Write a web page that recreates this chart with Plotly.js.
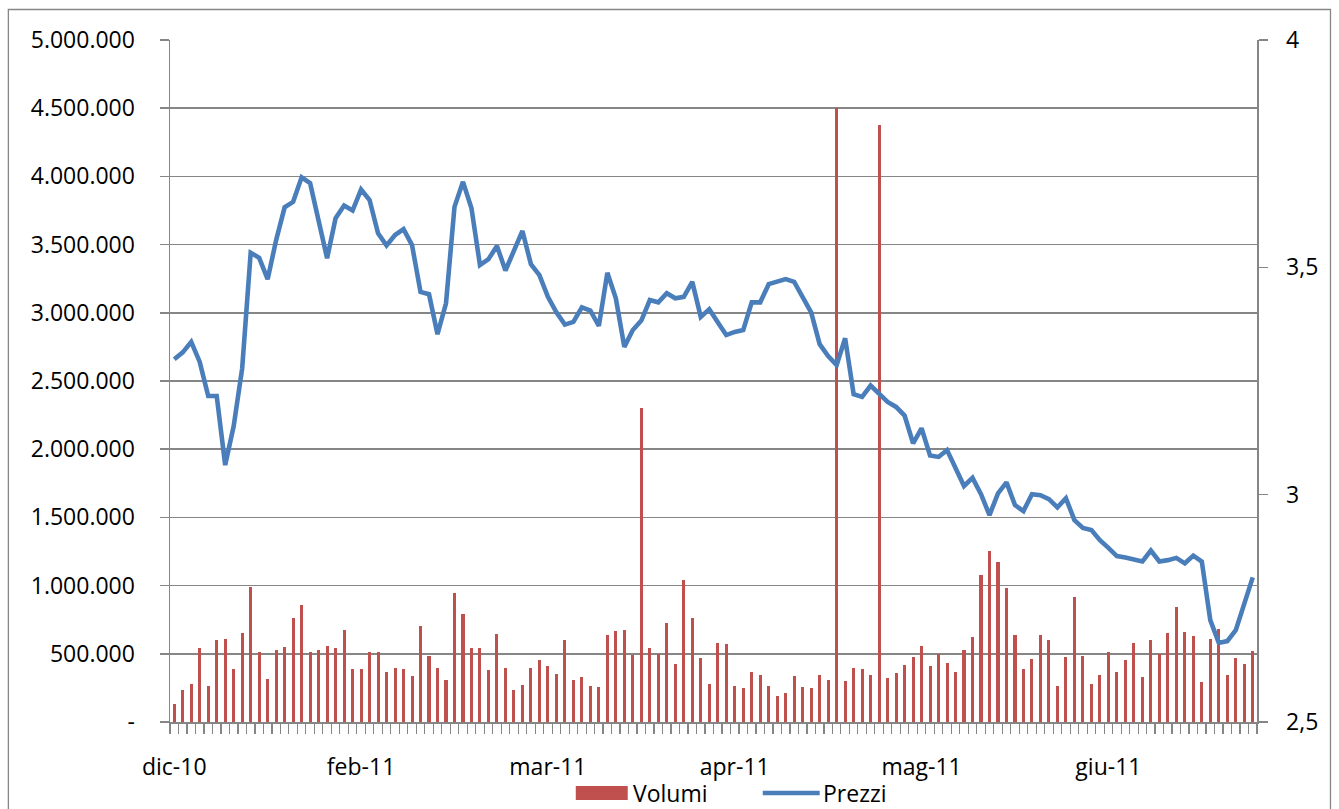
<!DOCTYPE html>
<html>
<head>
<meta charset="utf-8">
<script src="https://cdn.plot.ly/plotly-3.0.1.min.js"></script>
<style>
  html, body { margin: 0; padding: 0; background: #fff; }
  #chart { width: 1339px; height: 809px; }
</style>
</head>
<body>
<div id="chart"></div>
<script>
// Trading-day volumes (Volumi), one value per session
const volumi = [
  135000, 238000, 277000, 539000, 267000, 598000, 608000, 387000, 652000, 988000,
  510000, 316000, 529000, 549000, 760000, 855000, 515000, 525000, 554000, 542000,
  672000, 385000, 392000, 510000, 510000, 365000, 397000, 385000, 336000, 706000,
  483000, 395000, 306000, 944000, 792000, 539000, 544000, 382000, 645000, 395000,
  235000, 272000, 395000, 458000, 409000, 355000, 598000, 306000, 328000, 267000,
  260000, 640000, 667000, 674000, 493000, 2300000, 542000, 495000, 725000, 426000,
  1039000, 762000, 466000, 282000, 576000, 571000, 267000, 248000, 370000, 348000,
  265000, 191000, 216000, 336000, 260000, 250000, 341000, 311000, 4500000, 299000,
  397000, 387000, 348000, 4380000, 319000, 360000, 417000, 478000, 554000, 409000,
  495000, 436000, 365000, 529000, 623000, 1081000, 1254000, 1174000, 985000, 640000,
  387000, 461000, 635000, 598000, 267000, 473000, 914000, 483000, 275000, 341000,
  510000, 370000, 453000, 576000, 333000, 600000, 495000, 654000, 846000, 662000,
  627000, 294000, 605000, 679000, 348000, 466000, 426000, 520000
];

// Closing prices (Prezzi)
const prezzi = [
  3.298, 3.313, 3.336, 3.292, 3.217, 3.217, 3.065, 3.151, 3.278, 3.532,
  3.521, 3.474, 3.560, 3.632, 3.644, 3.698, 3.685, 3.597, 3.520, 3.608,
  3.636, 3.625, 3.671, 3.648, 3.575, 3.548, 3.571, 3.584, 3.549, 3.446,
  3.441, 3.353, 3.421, 3.633, 3.688, 3.630, 3.505, 3.518, 3.547, 3.493,
  3.536, 3.580, 3.507, 3.483, 3.435, 3.401, 3.374, 3.380, 3.412, 3.405,
  3.371, 3.488, 3.432, 3.325, 3.362, 3.383, 3.428, 3.423, 3.443, 3.432,
  3.435, 3.468, 3.391, 3.408, 3.379, 3.351, 3.358, 3.362, 3.423, 3.423,
  3.463, 3.468, 3.474, 3.468, 3.432, 3.401, 3.331, 3.305, 3.285, 3.344,
  3.221, 3.215, 3.240, 3.223, 3.204, 3.193, 3.174, 3.113, 3.146, 3.086,
  3.083, 3.098, 3.061, 3.019, 3.037, 3.001, 2.955, 3.003, 3.027, 2.977,
  2.964, 3.001, 2.999, 2.990, 2.972, 2.992, 2.944, 2.927, 2.922, 2.900,
  2.883, 2.865, 2.862, 2.858, 2.853, 2.877, 2.853, 2.856, 2.861, 2.849,
  2.866, 2.853, 2.724, 2.674, 2.678, 2.702, 2.761, 2.818
];

// Session index for each value
const sedute = volumi.map((_, i) => i);

// X tick labels and the sessions where they appear
const meseSedute = [0, 22, 44, 66, 88, 110];
const meseEtichette = ['dic-10', 'feb-11', 'mar-11', 'apr-11', 'mag-11', 'giu-11'];

// Left axis ticks
const volTicks = [0, 500000, 1000000, 1500000, 2000000, 2500000, 3000000, 3500000, 4000000, 4500000, 5000000];
const volTickText = ['-', '500.000', '1.000.000', '1.500.000', '2.000.000', '2.500.000', '3.000.000', '3.500.000', '4.000.000', '4.500.000', '5.000.000'];

// Right axis ticks
const prezziTicks = [2.5, 3, 3.5, 4];
const prezziTickText = ['2,5', '3', '3,5', '4'];

// Legend entries
const serieNomi = ['Volumi', 'Prezzi'];
const serieColori = ['#C0504D', '#4A7EBB'];

const GRAY = '#868686';
const FONT = { family: '"Open Sans", "Noto Sans", sans-serif', size: 23, color: '#000000' };

const traces = [
  {
    type: 'bar',
    name: serieNomi[0],
    x: sedute,
    y: volumi,
    width: 0.36,
    marker: { color: serieColori[0], line: { width: 0 } },
    xaxis: 'x',
    yaxis: 'y',
    showlegend: false,
    hoverinfo: 'skip'
  },
  {
    type: 'scatter',
    mode: 'lines',
    name: serieNomi[1],
    x: sedute,
    y: prezzi,
    line: { color: serieColori[1], width: 4.6 },
    xaxis: 'x',
    yaxis: 'y2',
    showlegend: false,
    hoverinfo: 'skip'
  }
];

const xRange = [-0.5, sedute.length - 0.5];

// Legend geometry (paper coordinates)
const legY = -0.104;

const layout = {
  width: 1339,
  height: 809,
  margin: { l: 170, r: 81.5, t: 40, b: 87, pad: 0, autoexpand: false },
  paper_bgcolor: '#ffffff',
  plot_bgcolor: '#ffffff',
  font: FONT,
  bargap: 0,
  showlegend: false,
  xaxis: {
    range: xRange,
    tickmode: 'array',
    tickvals: meseSedute,
    ticktext: meseEtichette,
    ticks: '',
    showline: true,
    linecolor: GRAY,
    linewidth: 1.5,
    showgrid: false,
    zeroline: false,
    ticklabelstandoff: 24,
    tickfont: FONT,
    automargin: false,
    minor: {
      tickmode: 'linear',
      tick0: -0.5,
      dtick: 1,
      ticks: 'outside',
      ticklen: 10,
      tickwidth: 1.2,
      tickcolor: GRAY,
      showgrid: false
    }
  },
  xaxis2: {
    overlaying: 'x',
    anchor: 'y',
    side: 'bottom',
    range: xRange,
    tickmode: 'linear',
    tick0: -0.5,
    dtick: 1,
    ticks: 'inside',
    ticklen: 7,
    tickwidth: 1.2,
    tickcolor: '#a6a6a6',
    showticklabels: false,
    showgrid: false,
    showline: false,
    zeroline: false
  },
  yaxis: {
    range: [0, 5000000],
    tickmode: 'array',
    tickvals: volTicks,
    ticktext: volTickText,
    ticks: 'outside',
    ticklen: 9,
    tickwidth: 1.5,
    tickcolor: GRAY,
    showline: true,
    linecolor: GRAY,
    linewidth: 1.5,
    showgrid: true,
    gridcolor: GRAY,
    gridwidth: 1.5,
    zeroline: false,
    ticklabelstandoff: 20,
    tickfont: FONT,
    automargin: false
  },
  yaxis2: {
    overlaying: 'y',
    side: 'right',
    anchor: 'x',
    range: [2.5, 4],
    tickmode: 'array',
    tickvals: prezziTicks,
    ticktext: prezziTickText,
    ticks: 'outside',
    ticklen: 9,
    tickwidth: 1.5,
    tickcolor: GRAY,
    showline: true,
    linecolor: GRAY,
    linewidth: 1.5,
    showgrid: false,
    zeroline: false,
    ticklabelstandoff: 14,
    tickfont: FONT,
    automargin: false
  },
  yaxis3: {
    overlaying: 'y',
    side: 'right',
    anchor: 'x',
    range: [2.5, 4],
    tickmode: 'array',
    tickvals: prezziTicks,
    ticks: 'inside',
    ticklen: 8,
    tickwidth: 1.5,
    tickcolor: GRAY,
    showticklabels: false,
    showline: false,
    showgrid: false,
    zeroline: false
  },
  shapes: [
    {
      type: 'rect',
      xref: 'paper', yref: 'paper',
      x0: -0.1487, x1: 1.0676,
      y0: -0.16, y1: 1.0447,
      line: { color: GRAY, width: 1.3 },
      fillcolor: 'rgba(0,0,0,0)',
      layer: 'below'
    },
    // legend key: Volumi
    {
      type: 'rect',
      xref: 'paper', yref: 'paper',
      x0: 0.3733, x1: 0.4211,
      y0: -0.1144, y1: -0.0938,
      line: { width: 0 },
      fillcolor: serieColori[0]
    },
    // legend key: Prezzi
    {
      type: 'line',
      xref: 'paper', yref: 'paper',
      x0: 0.5453, x1: 0.5977,
      y0: legY, y1: legY,
      line: { color: serieColori[1], width: 4.6 }
    }
  ],
  annotations: [
    {
      xref: 'paper', yref: 'paper',
      x: 0.4239, y: legY,
      xanchor: 'left', yanchor: 'middle',
      text: serieNomi[0],
      showarrow: false,
      font: FONT
    },
    {
      xref: 'paper', yref: 'paper',
      x: 0.5986, y: legY,
      xanchor: 'left', yanchor: 'middle',
      text: serieNomi[1],
      showarrow: false,
      font: FONT
    }
  ]
};

Plotly.newPlot('chart', traces, layout, { staticPlot: true, displayModeBar: false });
</script>
</body>
</html>
